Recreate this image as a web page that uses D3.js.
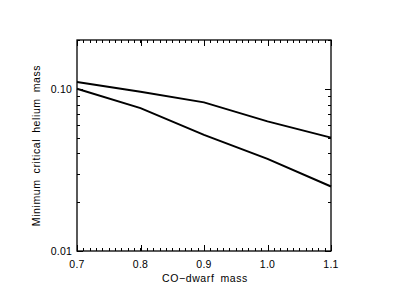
<!DOCTYPE html>
<html>
<head>
<meta charset="utf-8">
<script src="https://cdn.jsdelivr.net/npm/d3@7"></script>
<style>
body { margin: 0; background: #fff; }
svg text { font-family: "Liberation Sans", Arial, sans-serif; fill: #000; }
</style>
</head>
<body>
<svg width="395" height="305"></svg>
<script>
var svg = d3.select("svg");

// data
var coMass = [0.7, 0.8, 0.9, 1.0, 1.1];
var upperHe = [0.110, 0.096, 0.0825, 0.063, 0.050];
var lowerHe = [0.100, 0.076, 0.052, 0.037, 0.025];
var xTicks = [0.7, 0.8, 0.9, 1.0, 1.1];
var yTicks = [0.01, 0.10];

var pLeft = 77, pRight = 331, pTop = 40, pBottom = 251;

var x = d3.scaleLinear().domain([0.7, 1.1]).range([pLeft, pRight]);
var y = d3.scaleLog().domain([0.01, 0.2]).range([pBottom, pTop]);

var g = svg.append("g");

// minor ticks
var xMinor = d3.range(0, 41).map(function(i){ return 0.7 + i * 0.01; });
var yMinor = [];
for (var k = 2; k <= 9; k++) yMinor.push(k * 0.01);
yMinor.push(0.2);

function tick(x1, y1, x2, y2) {
  g.append("line").attr("x1", x1).attr("y1", y1).attr("x2", x2).attr("y2", y2)
    .attr("stroke", "#000").attr("stroke-width", 1);
}
xMinor.forEach(function(v){
  var px = Math.round(x(v)) + 0.5;
  tick(px, pBottom, px, pBottom - 3);
  tick(px, pTop, px, pTop + 3);
});
xTicks.forEach(function(v){
  var px = Math.round(x(v)) + 0.5;
  tick(px, pBottom, px, pBottom - 6);
  tick(px, pTop, px, pTop + 6);
});
yMinor.forEach(function(v){
  var py = Math.round(y(v)) + 0.5;
  tick(pLeft, py, pLeft + 3, py);
  tick(pRight, py, pRight - 3, py);
});
yTicks.forEach(function(v){
  var py = Math.round(y(v)) + 0.5;
  tick(pLeft, py, pLeft + 6, py);
  tick(pRight, py, pRight - 6, py);
});

// frame
g.append("rect").attr("x", pLeft).attr("y", pTop)
  .attr("width", pRight - pLeft).attr("height", pBottom - pTop)
  .attr("fill", "none").attr("stroke", "#000").attr("stroke-width", 1.3);

// tick labels
xTicks.forEach(function(v){
  g.append("text").attr("x", x(v)).attr("y", pBottom + 17)
    .attr("text-anchor", "middle").attr("font-size", 10.5)
    .attr("letter-spacing", 0.3)
    .text(v.toFixed(1));
});
yTicks.forEach(function(v){
  g.append("text").attr("x", pLeft - 5).attr("y", y(v) + 4)
    .attr("text-anchor", "end").attr("font-size", 10.5)
    .attr("letter-spacing", 0.2)
    .text(v.toFixed(2));
});

// axis titles
g.append("text").attr("x", (pLeft + pRight) / 2 + 1).attr("y", pBottom + 31)
  .attr("text-anchor", "middle").attr("font-size", 10.5)
  .attr("letter-spacing", 0.6).attr("word-spacing", 2.5)
  .text("CO\u2212dwarf mass");
g.append("text")
  .attr("transform", "translate(40," + ((pTop + pBottom) / 2) + ") rotate(-90)")
  .attr("text-anchor", "middle").attr("font-size", 10.5)
  .attr("letter-spacing", 0.6).attr("word-spacing", 2.5)
  .text("Minimum critical helium mass");

// lines
var line = d3.line()
  .x(function(d){ return x(d[0]); })
  .y(function(d){ return y(d[1]); });

[upperHe, lowerHe].forEach(function(series){
  g.append("path")
    .datum(coMass.map(function(m, i){ return [m, series[i]]; }))
    .attr("d", line)
    .attr("fill", "none").attr("stroke", "#000").attr("stroke-width", 2);
});
</script>
</body>
</html>
